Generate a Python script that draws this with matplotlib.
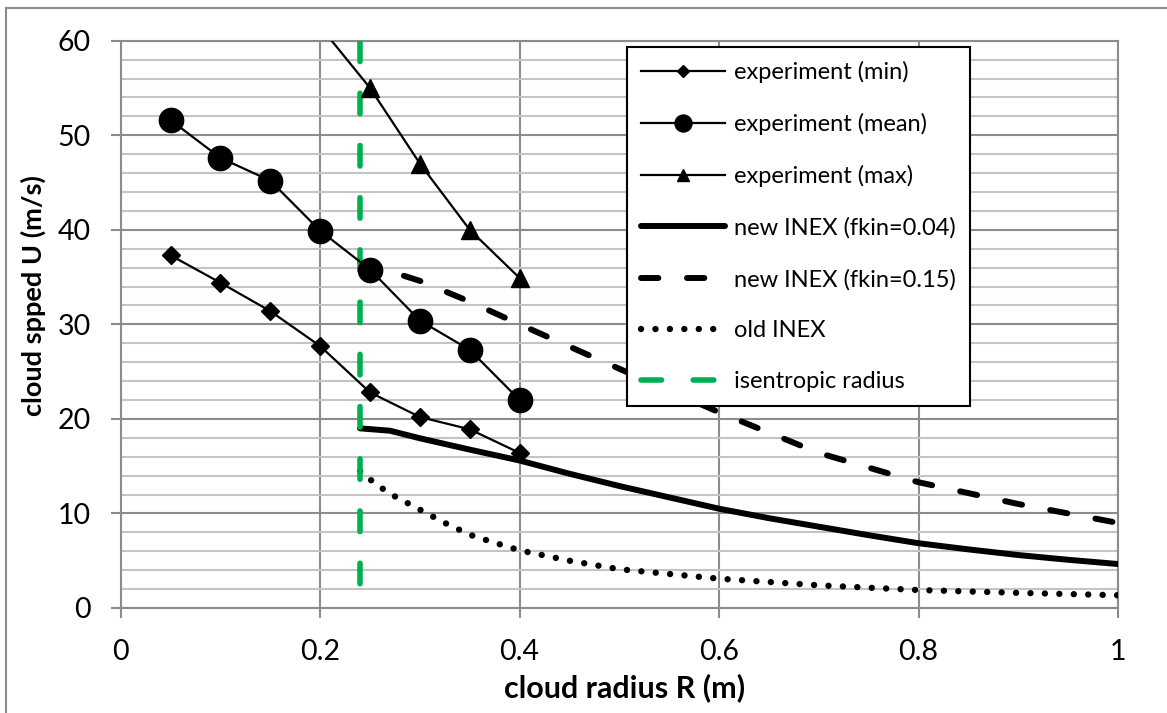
import matplotlib
matplotlib.use("Agg")
import matplotlib.pyplot as plt
from matplotlib.lines import Line2D
import numpy as np

plt.rcParams['font.family'] = ['Lato', 'DejaVu Sans']

# ---------------- data ----------------
r_exp = [0.05, 0.10, 0.15, 0.20, 0.25, 0.30, 0.35, 0.40]
u_min = [37.3, 34.4, 31.4, 27.7, 22.8, 20.2, 18.9, 16.4]
u_mean = [51.6, 47.6, 45.2, 39.9, 35.8, 30.4, 27.3, 22.0]
r_max = [0.20, 0.25, 0.30, 0.35, 0.40]
u_max = [61.5, 55.0, 47.0, 40.0, 34.9]

r_new04 = [0.24, 0.27, 0.30, 0.35, 0.40, 0.45, 0.50, 0.55, 0.60, 0.65, 0.70,
           0.75, 0.80, 0.85, 0.90, 0.95, 1.00]
u_new04 = [19.0, 18.75, 17.95, 16.75, 15.6, 14.2, 12.9, 11.7, 10.5, 9.5, 8.6,
           7.7, 6.85, 6.2, 5.6, 5.1, 4.65]

r_new15 = [0.24, 0.30, 0.35, 0.40, 0.50, 0.60, 0.70, 0.80, 0.90, 1.00]
u_new15 = [36.6, 34.6, 32.4, 30.0, 25.3, 20.7, 16.4, 13.3, 11.0, 9.0]

r_old = [0.24, 0.25, 0.26, 0.275, 0.30, 0.325, 0.35, 0.375, 0.40, 0.45, 0.50,
         0.55, 0.60, 0.70, 0.80, 0.90, 1.00]
u_old = [14.5, 13.6, 12.8, 11.8, 10.4, 9.0, 7.75, 6.9, 6.1, 5.0, 4.1,
         3.6, 3.1, 2.4, 1.9, 1.6, 1.35]

r_isen = [0.24, 0.24]
u_isen = [60, 0]

x_ticks = [0, 0.2, 0.4, 0.6, 0.8, 1.0]
x_ticklabels = ["0", "0.2", "0.4", "0.6", "0.8", "1"]
y_ticks = [0, 10, 20, 30, 40, 50, 60]

labels = ["experiment (min)", "experiment (mean)", "experiment (max)",
          "new INEX (fkin=0.04)", "new INEX (fkin=0.15)", "old INEX",
          "isentropic radius"]

# ---------------- figure ----------------
W, H = 1167, 713
fig = plt.figure(figsize=(W / 100, H / 100), dpi=100)
ax = fig.add_axes([120.7 / W, 1 - 608 / H, (1118 - 120.7) / W, (608 - 40.7) / H])

major_c = '#8C8C8C'
minor_c = '#C4C4C4'

ax.set_xlim(0, 1)
ax.set_ylim(0, 60)
ax.set_xticks(x_ticks)
ax.set_xticklabels(x_ticklabels)
ax.set_yticks(y_ticks)
ax.set_yticks(np.arange(0, 61, 2), minor=True)
ax.set_axisbelow(True)
ax.grid(which='minor', axis='y', color=minor_c, lw=1.5)
ax.grid(which='major', axis='both', color=major_c, lw=1.5)
ax.tick_params(which='minor', length=0)
ax.tick_params(which='major', direction='out', length=7.5, width=1.5,
               color=major_c, labelsize=20.5, labelcolor='black')
ax.tick_params(axis='y', pad=14)
ax.tick_params(axis='x', pad=15)
for s in ax.spines.values():
    s.set_color(major_c)
    s.set_linewidth(1.5)

lw_thin = 1.6
ax.plot(r_exp, u_min, color='black', lw=lw_thin, marker='D', ms=9.0,
        label=labels[0], zorder=4)
ax.plot(r_exp, u_mean, color='black', lw=lw_thin, marker='o', ms=17.5,
        label=labels[1], zorder=4)
ax.plot(r_max, u_max, color='black', lw=lw_thin, marker='^', ms=13.0,
        label=labels[2], zorder=4)
ax.plot(r_new04, u_new04, color='black', lw=4.3, solid_capstyle='round',
        label=labels[3], zorder=3)
ax.plot(r_new15, u_new15, color='black', lw=4.3, dash_capstyle='round',
        linestyle=(0, (2.9, 4.8)), label=labels[4], zorder=3)
ax.plot(r_old, u_old, color='black', lw=4.6, dash_capstyle='round',
        linestyle=(0, (0.01, 2.25)), label=labels[5], zorder=3)
ax.plot(r_isen, u_isen, color='#00B050', lw=4.0, dash_capstyle='round',
        linestyle=(0, (3.7, 5.7)), label=labels[6], zorder=3)

leg = ax.legend(loc='upper left', bbox_to_anchor=(626.7 / W, 1 - 46.7 / H),
                bbox_transform=fig.transFigure, fontsize=17, frameon=True,
                fancybox=False, shadow=False, framealpha=1, edgecolor='black',
                borderpad=0.6, labelspacing=1.27, handlelength=3.55,
                handletextpad=0.4, borderaxespad=0, markerscale=0.7)
leg.get_frame().set_linewidth(1.5)
leg.set_zorder(10)

fig.text(625 / W, 1 - 688 / H, "cloud radius R (m)", ha='center', va='center',
         fontsize=22, fontweight='bold')
fig.text(33 / W, 1 - 296 / H, "cloud spped U (m/s)", ha='center', va='center',
         fontsize=19.5, fontweight='bold', rotation=90)

# chart-area border (gray)
fig.add_artist(Line2D([6 / W, 6 / W], [0, 1 - 8 / H], transform=fig.transFigure,
                      color='#8C8C8C', lw=1.5))
fig.add_artist(Line2D([6 / W, 1], [1 - 8 / H, 1 - 8 / H], transform=fig.transFigure,
                      color='#8C8C8C', lw=1.5))

fig.savefig("out.png", dpi=100)
